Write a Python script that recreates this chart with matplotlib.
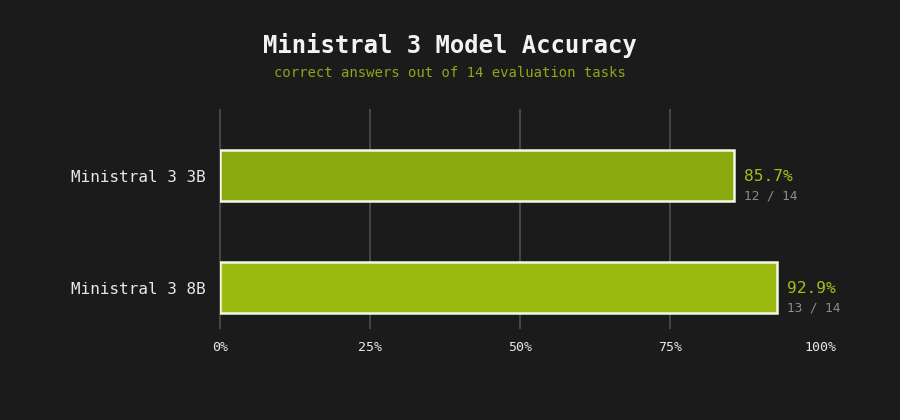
import numpy as np
from matplotlib import pyplot as plt

# data
models = ["Ministral 3 3B", "Ministral 3 8B"]
correct = [12, 13]
total = 14
bar_colors = ["#8aaa10", "#9bbb10"]

accuracy = [c / total * 100 for c in correct]

BG = "#1b1b1b"
plt.rcParams["font.family"] = ["DejaVu Sans Mono"]

fig = plt.figure(figsize=(9, 4.2), dpi=100, facecolor=BG)
ax = fig.add_axes([220 / 900, 1 - 328 / 420, 600 / 900, 218 / 420])
ax.set_facecolor(BG)

y = np.arange(len(models))
ax.barh(y, accuracy, height=0.46, color=bar_colors, edgecolor="#f4f6e6", linewidth=1.8, zorder=3)

ax.set_xlim(0, 100)
ax.set_ylim(1.36, -0.585)
for gx in [0, 25, 50, 75]:
    ax.axvline(gx, color="#454545", linewidth=1.5, zorder=1, clip_on=False)

ax.set_xticks([0, 25, 50, 75, 100])
ax.set_xticklabels([f"{t}%" for t in [0, 25, 50, 75, 100]])
ax.set_yticks(y)
ax.set_yticklabels(models)
ax.tick_params(axis="x", length=0, pad=9.5, labelsize=9.5, colors="#e8e8e8")
ax.tick_params(axis="y", length=0, pad=10, labelsize=11.5, colors="#e8e8e8")
for s in ax.spines.values():
    s.set_visible(False)

for yi, acc, c in zip(y, accuracy, correct):
    ax.text(acc + 1.6, yi + 0.01, f"{acc:.1f}%", color="#a3bf1c", fontsize=11.7,
            va="center", ha="left", zorder=4)
    ax.text(acc + 1.6, yi + 0.18, f"{c} / {total}", color="#8c8c8c", fontsize=9.2,
            va="center", ha="left", zorder=4)

fig.text(450 / 900, 1 - 45 / 420, "Ministral 3 Model Accuracy", color="#f2f2f2",
         fontsize=17.2, fontweight="bold", ha="center", va="center")
fig.text(450 / 900, 1 - 73 / 420, "correct answers out of 14 evaluation tasks",
         color="#8aa81a", fontsize=10, ha="center", va="center")

fig.savefig("out.png", facecolor=BG)
